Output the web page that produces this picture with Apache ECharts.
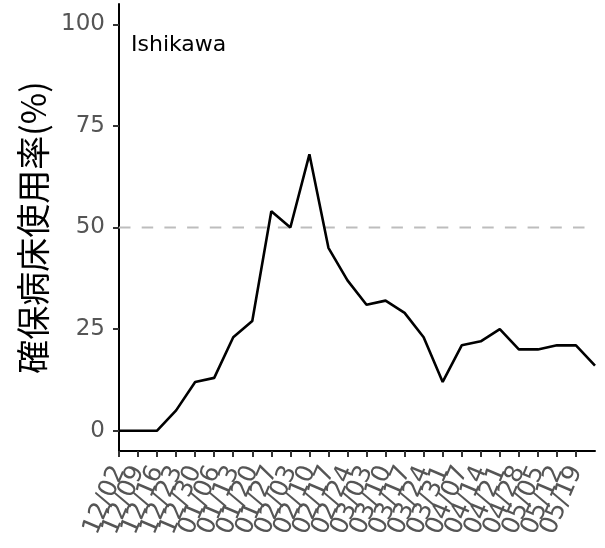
<!DOCTYPE html>
<html>
<head>
<meta charset="utf-8">
<script src="https://cdn.jsdelivr.net/npm/echarts@6/dist/echarts.min.js"></script>
<style>
    html, body { margin: 0; padding: 0; background: #fff; }
    #chart { width: 605px; height: 548px; }
</style>
</head>
<body>
<div id="chart"></div>
<script>
    // 週ごとの日付（最後の点 05/26 はラベルなし）
    var dates = ['12/02', '12/09', '12/16', '12/23', '12/30', '01/06', '01/13', '01/20', '01/27',
        '02/03', '02/10', '02/17', '02/24', '03/03', '03/10', '03/17', '03/24', '03/31',
        '04/07', '04/14', '04/21', '04/28', '05/05', '05/12', '05/19', '05/26'];
    var tickLabels = dates.slice(0, 25);
    var usage = [0, 0, 0, 5, 12, 13, 23, 27, 54, 50, 68, 45, 37, 31, 32, 29, 23, 12,
        21, 22, 25, 20, 20, 21, 21, 16];
    var yTicks = [0, 25, 50, 75, 100];
    var refLine = 50;

    var chart = echarts.init(document.getElementById('chart'));

    var option = {
        animation: false,
        grid: {left: 119, right: 10, top: 4, bottom: 97},
        xAxis: {
            type: 'category',
            boundaryGap: false,
            data: dates,
            axisLine: {onZero: false, lineStyle: {color: '#000', width: 2}},
            axisTick: {
                // 最後の点（05/26）には目盛りなし
                interval: function (i) { return i < tickLabels.length; },
                length: 6,
                lineStyle: {color: '#333', width: 2}
            },
            axisLabel: {
                interval: 0,
                rotate: 67,
                margin: 16,
                color: '#555',
                fontFamily: 'DejaVu Sans',
                fontSize: 25,
                formatter: function (v, i) {
                    return tickLabels[i] || '';
                }
            },
            splitLine: {show: false}
        },
        yAxis: {
            type: 'value',
            min: -5,
            max: 105,
            name: '確保病床使用率(%)',
            nameLocation: 'middle',
            nameGap: 69,
            nameTextStyle: {
                color: '#000',
                fontFamily: 'Noto Sans CJK JP',
                fontSize: 34
            },
            axisLine: {show: true, lineStyle: {color: '#000', width: 2}},
            axisTick: {
                show: true,
                customValues: yTicks,
                length: 6,
                lineStyle: {color: '#333', width: 2}
            },
            axisLabel: {
                customValues: yTicks,
                showMinLabel: true,
                showMaxLabel: true,
                margin: 14,
                color: '#555',
                fontFamily: 'DejaVu Sans',
                fontSize: 23
            },
            splitLine: {show: false}
        },
        graphic: [{
            type: 'text',
            left: 131,
            top: 34,
            style: {
                text: 'Ishikawa',
                fill: '#000',
                font: '22px "DejaVu Sans"'
            }
        }],
        series: [{
            // 50% の基準線（左から右へ描画）
            type: 'line',
            data: [[0, refLine], [dates.length - 1, refLine]],
            symbol: 'none',
            silent: true,
            z: 1,
            lineStyle: {color: '#bdbdbd', type: [11.5, 11.2], width: 2.2}
        }, {
            type: 'line',
            data: usage,
            symbol: 'none',
            z: 2,
            lineStyle: {color: '#000', width: 2.6}
        }]
    };

    chart.setOption(option);
</script>
</body>
</html>
